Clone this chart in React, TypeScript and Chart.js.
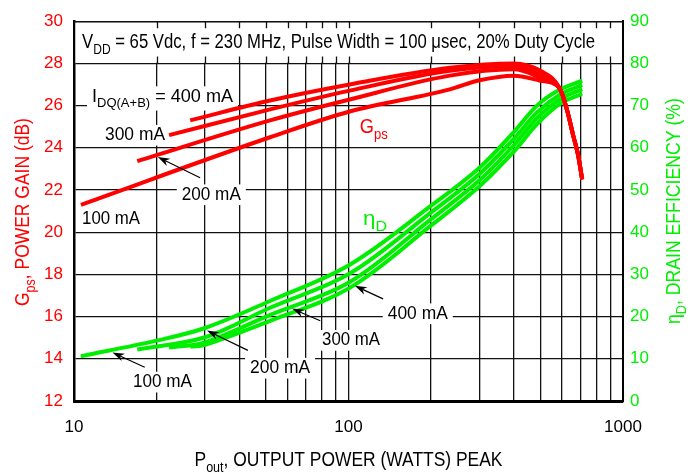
import React, { useEffect, useRef } from 'react';
import { Chart, registerables } from 'chart.js';

Chart.register(...registerables);

const RED = '#ff0000';
const GREEN = '#00ee00';
const FONT = '"Liberation Sans", Arial, Helvetica, sans-serif';

// Axes
const xGridValues = [10, 20, 30, 40, 50, 60, 70, 80, 90, 100, 200, 300, 400, 500, 600, 700, 800, 900, 1000];
const xTickLabels = [10, 100, 1000];
const gainRange = [12, 30];
const gainStep = 2;
const effRange = [0, 90];
const effStep = 10;

// Power gain (dB) vs Pout (W)
const gainPout400 = [26.5, 51.8, 101, 234, 400, 500, 589, 625, 658, 686, 710];
const gain400 = [25.3, 26.24, 27.0, 27.79, 28.0, 27.65, 26.8, 25.8, 24.6, 23.66, 22.5];
const gainPout300 = [22.2, 51.8, 101, 234, 400, 500, 589, 625, 658, 686, 710];
const gain300 = [24.6, 25.82, 26.71, 27.65, 27.86, 27.46, 26.8, 25.8, 24.6, 23.66, 22.5];
const gainPout200 = [17.0, 51.8, 101, 234, 400, 500, 589, 625, 658, 686, 710];
const gain200 = [23.37, 25.3, 26.29, 27.42, 27.72, 27.32, 26.8, 25.8, 24.6, 23.66, 22.5];
const gainPout100 = [10.6, 51.8, 101, 234, 300, 400, 500, 589, 625, 658, 686, 710];
const gain100 = [21.3, 24.5, 25.72, 26.77, 27.2, 27.42, 27.18, 26.8, 25.8, 24.6, 23.66, 22.5];

// Drain efficiency (%) vs Pout (W)
const effPout100 = [10.6, 20, 30, 51.8, 101, 200, 300, 400, 486, 589, 710];
const eff100 = [10.6, 14.3, 17.3, 23.7, 32.3, 46.3, 55.3, 63.7, 70.0, 73.8, 75.9];
const effPout200 = [17.0, 30, 51.8, 101, 200, 300, 400, 486, 589, 710];
const eff200 = [12.2, 15.1, 22.1, 30.2, 44.7, 53.8, 62.1, 68.4, 72.6, 74.9];
const effPout300 = [22.2, 30, 51.8, 101, 200, 300, 400, 486, 589, 710];
const eff300 = [12.7, 13.9, 20.4, 28.2, 43.1, 52.3, 60.6, 67.0, 71.5, 73.9];
const effPout400 = [26.5, 30, 51.8, 101, 200, 300, 400, 486, 589, 710];
const eff400 = [12.9, 13.3, 19.0, 26.8, 41.6, 50.9, 59.1, 65.6, 70.4, 72.8];

type Run = { t: string; sub?: boolean };

const titleRuns: Run[] = [{ t: 'V' }, { t: 'DD', sub: true }, { t: ' = 65 Vdc, f = 230 MHz, Pulse Width = 100 \u03bcsec, 20% Duty Cycle' }];
const yLTitle: Run[] = [{ t: 'G' }, { t: 'ps', sub: true }, { t: ', POWER GAIN (dB)' }];
const yRTitle: Run[] = [{ t: '\u03b7' }, { t: 'D', sub: true }, { t: ', DRAIN EFFICIENCY (%)' }];
const xTitle: Run[] = [{ t: 'P' }, { t: 'out', sub: true }, { t: ', OUTPUT POWER (WATTS) PEAK' }];

// annotation labels anchored in data coordinates (left edge, baseline)
const labels = [
  { runs: [{ t: 'I' }, { t: 'DQ(A+B)', sub: true }, { t: ' = 400 mA' }], p: 11.63, v: 26.19, axis: 'yL', w: 141, size: 18, color: '#000', bg: true },
  { runs: [{ t: '300 mA' }], p: 12.97, v: 24.36, axis: 'yL', w: 60, size: 18, color: '#000', bg: true },
  { runs: [{ t: '200 mA' }], p: 24.7, v: 21.54, axis: 'yL', w: 59, size: 18, color: '#000', bg: true },
  { runs: [{ t: '100 mA' }], p: 10.7, v: 20.41, axis: 'yL', w: 58, size: 18, color: '#000', bg: true },
  { runs: [{ t: 'G' }, { t: 'ps', sub: true }], p: 110, v: 24.69, axis: 'yL', w: 28, size: 20, color: RED, bg: false },
  { runs: [{ t: '\u03b7' }, { t: 'D', sub: true }], p: 113, v: 41.6, axis: 'yR', w: 24, size: 20, color: GREEN, bg: false },
  { runs: [{ t: '400 mA' }], p: 139, v: 19.5, axis: 'yR', w: 60, size: 18, color: '#000', bg: true },
  { runs: [{ t: '300 mA' }], p: 80.1, v: 13.2, axis: 'yR', w: 58, size: 18, color: '#000', bg: true },
  { runs: [{ t: '200 mA' }], p: 43.8, v: 6.6, axis: 'yR', w: 60, size: 18, color: '#000', bg: true },
  { runs: [{ t: '100 mA' }], p: 16.4, v: 3.3, axis: 'yR', w: 59, size: 18, color: '#000', bg: true },
];

const arrows = [
  { from: [28.8, 22.58], to: [20.2, 23.56], axis: 'yL' },
  { from: [18.1, 8.0], to: [13.8, 11.5], axis: 'yR' },
  { from: [43.0, 12.0], to: [30.5, 16.7], axis: 'yR' },
  { from: [78.9, 19.0], to: [62.3, 21.9], axis: 'yR' },
  { from: [133.6, 24.2], to: [105.5, 27.3], axis: 'yR' },
];

function runsWidth(ctx: CanvasRenderingContext2D, runs: Run[], size: number) {
  let w = 0;
  for (const r of runs) {
    ctx.font = `${r.sub ? size * 0.72 : size}px ${FONT}`;
    w += ctx.measureText(r.t).width;
  }
  return w;
}

function drawRuns(ctx: CanvasRenderingContext2D, runs: Run[], x: number, y: number, size: number, color: string, targetW: number, center = false) {
  const w = runsWidth(ctx, runs, size);
  const sx = targetW / w;
  ctx.save();
  ctx.translate(x, y);
  ctx.scale(sx, 1);
  ctx.fillStyle = color;
  ctx.textAlign = 'left';
  ctx.textBaseline = 'alphabetic';
  let cx = center ? -w / 2 : 0;
  for (const r of runs) {
    ctx.font = `${r.sub ? size * 0.72 : size}px ${FONT}`;
    ctx.fillText(r.t, cx, r.sub ? size * 0.3 : 0);
    cx += ctx.measureText(r.t).width;
  }
  ctx.restore();
}

function drawArrow(ctx: CanvasRenderingContext2D, x1: number, y1: number, x2: number, y2: number) {
  const a = Math.atan2(y2 - y1, x2 - x1);
  const L = 12, W = 4;
  const c = Math.cos(a), s = Math.sin(a);
  ctx.beginPath();
  ctx.moveTo(x1, y1);
  ctx.lineTo(x2 - L * 0.7 * c, y2 - L * 0.7 * s);
  ctx.stroke();
  ctx.beginPath();
  ctx.moveTo(x2, y2);
  ctx.lineTo(x2 - L * c + W * s, y2 - L * s - W * c);
  ctx.lineTo(x2 - L * 0.7 * c, y2 - L * 0.7 * s);
  ctx.lineTo(x2 - L * c - W * s, y2 - L * s + W * c);
  ctx.closePath();
  ctx.fill();
}

const annotationPlugin = {
  id: 'annotations',
  beforeDatasetsDraw(chart: any) {
    const { ctx, chartArea, scales } = chart;
    const { left, right, top } = chartArea;
    const x = scales.x, yL = scales.yL;
    const y28 = yL.getPixelForValue(28);
    ctx.save();
    ctx.fillStyle = '#fff';
    ctx.fillRect(left + 1.5, top + 1, right - left - 3, y28 - top - 1.7);
    ctx.strokeStyle = '#111';
    ctx.lineWidth = 1.3;
    ctx.beginPath();
    for (const v of xGridValues.slice(1, -1)) {
      const px = Math.round(x.getPixelForValue(v)) + 0.5;
      ctx.moveTo(px, top);
      ctx.lineTo(px, top + 7);
      ctx.moveTo(px, y28 - 7);
      ctx.lineTo(px, y28);
    }
    ctx.stroke();
    ctx.lineWidth = 1.6;
    ctx.beginPath();
    ctx.moveTo(left, top + 0.5);
    ctx.lineTo(right, top + 0.5);
    ctx.stroke();
    // title
    drawRuns(ctx, titleRuns, x.getPixelForValue(10.7), yL.getPixelForValue(28.73), 19.5, '#000', 513);
    // labels
    for (const lb of labels) {
      const px = x.getPixelForValue(lb.p);
      const py = scales[lb.axis].getPixelForValue(lb.v);
      const hasSub = lb.runs.some((r: Run) => r.sub);
      if (lb.bg) {
        ctx.fillStyle = '#fff';
        const y0 = py - lb.size * 0.85;
        const y1 = py + (hasSub ? lb.size * 0.5 : lb.size * 0.3);
        ctx.fillRect(px - 5, y0, lb.w + 10, y1 - y0);
      }
      drawRuns(ctx, lb.runs, px, py, lb.size, lb.color, lb.w);
    }
    ctx.restore();
  },
  afterDatasetsDraw(chart: any) {
    const { ctx, scales } = chart;
    const x = scales.x;
    ctx.save();
    ctx.strokeStyle = '#000';
    ctx.fillStyle = '#000';
    ctx.lineWidth = 1.2;
    for (const ar of arrows) {
      const ys = scales[ar.axis];
      drawArrow(ctx, x.getPixelForValue(ar.from[0]), ys.getPixelForValue(ar.from[1]), x.getPixelForValue(ar.to[0]), ys.getPixelForValue(ar.to[1]));
    }
    ctx.restore();
  },
  afterDraw(chart: any) {
    const { ctx, chartArea } = chart;
    const cy = (chartArea.top + chartArea.bottom) / 2;
    ctx.save();
    ctx.translate(22, cy + 1);
    ctx.rotate(-Math.PI / 2);
    drawRuns(ctx, yLTitle, 0, 7, 20, RED, 188, true);
    ctx.restore();
    ctx.save();
    ctx.translate(673, cy);
    ctx.rotate(-Math.PI / 2);
    drawRuns(ctx, yRTitle, 0, 7, 20, GREEN, 226, true);
    ctx.restore();
    drawRuns(ctx, xTitle, (chartArea.left + chartArea.right) / 2, 466, 20, '#000', 308, true);
  },
};

function series(px: number[], vals: number[]) {
  return px.map((p, i) => ({ x: p, y: vals[i] }));
}

export default function App() {
  const ref = useRef<HTMLCanvasElement>(null);
  useEffect(() => {
    document.body.style.margin = '0';
    const canvas = ref.current!;
    const grid = { color: '#111', lineWidth: 1.3, drawTicks: false };
    const red = { borderColor: RED, yAxisID: 'yL', borderWidth: 4, cubicInterpolationMode: 'monotone' };
    const green = { borderColor: GREEN, yAxisID: 'yR', borderWidth: 4, cubicInterpolationMode: 'default', tension: 0.35 };
    const chart = new Chart(canvas, {
      type: 'line',
      data: {
        datasets: [
          { ...red, label: 'Gps 400 mA', data: series(gainPout400, gain400) },
          { ...red, label: 'Gps 300 mA', data: series(gainPout300, gain300) },
          { ...red, label: 'Gps 200 mA', data: series(gainPout200, gain200) },
          { ...red, label: 'Gps 100 mA', data: series(gainPout100, gain100) },
          { ...green, label: 'ηD 100 mA', data: series(effPout100, eff100) },
          { ...green, label: 'ηD 200 mA', data: series(effPout200, eff200) },
          { ...green, label: 'ηD 300 mA', data: series(effPout300, eff300) },
          { ...green, label: 'ηD 400 mA', data: series(effPout400, eff400) },
        ] as any,
      },
      options: {
        animation: false,
        responsive: false,
        devicePixelRatio: 1,
        layout: { padding: { top: 18, left: 0, right: 0, bottom: 0 } },
        elements: { point: { radius: 0 }, line: { fill: false } },
        plugins: { legend: { display: false }, tooltip: { enabled: false }, title: { display: false } },
        scales: {
          x: {
            type: 'logarithmic',
            min: 10,
            max: 1000,
            afterBuildTicks: (s: any) => { s.ticks = xGridValues.map((v) => ({ value: v })); },
            afterFit: (s: any) => { s.height = 72; },
            ticks: {
              autoSkip: false,
              maxRotation: 0,
              padding: 16,
              color: '#000',
              font: { family: FONT, size: 17 },
              callback: (v: any) => (xTickLabels.includes(Number(v)) ? String(v) : ''),
            },
            grid,
            border: { color: '#000', width: 3 },
          },
          yL: {
            type: 'linear',
            position: 'left',
            min: gainRange[0],
            max: gainRange[1],
            afterFit: (s: any) => { s.width = 74; },
            ticks: { stepSize: gainStep, color: RED, padding: 11, font: { family: FONT, size: 17 } },
            grid,
            border: { color: '#000', width: 2.5 },
          },
          yR: {
            type: 'linear',
            position: 'right',
            min: effRange[0],
            max: effRange[1],
            afterFit: (s: any) => { s.width = 76; },
            ticks: { stepSize: effStep, color: GREEN, padding: 7, font: { family: FONT, size: 17 } },
            grid: { display: false, drawTicks: false },
            border: { color: '#000', width: 2 },
          },
        },
      } as any,
      plugins: [annotationPlugin],
    });
    return () => chart.destroy();
  }, []);
  return (
    <div style={{ position: 'fixed', left: 0, top: 0, width: 699, height: 473, background: '#fff' }}>
      <canvas ref={ref} width={699} height={473} />
    </div>
  );
}
